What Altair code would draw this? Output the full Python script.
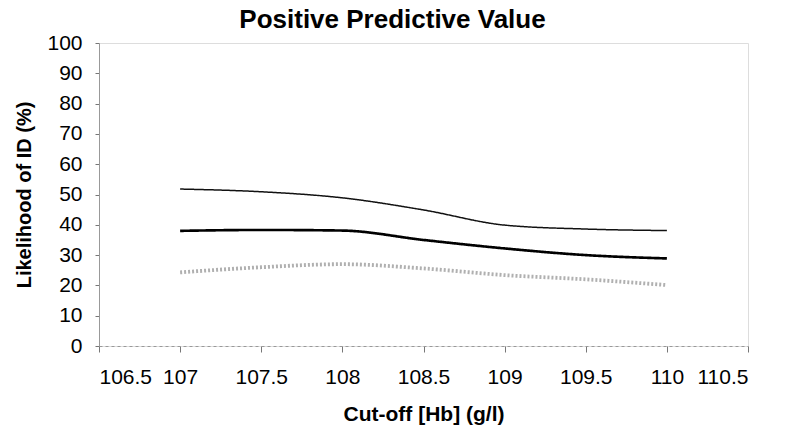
import altair as alt
import pandas as pd

cutoff = [107, 107.5, 108, 108.5, 109, 109.5, 110]
upper = [51.8, 50.9, 48.9, 44.9, 39.9, 38.6, 38.1]
ppv = [38.0, 38.3, 38.1, 35.0, 32.2, 30.0, 28.9]
lower = [24.3, 26.0, 27.0, 25.6, 23.4, 22.0, 20.1]

series_names = ["Upper", "PPV", "Lower"]
series_vals = [upper, ppv, lower]

rows = []
for name, vals in zip(series_names, series_vals):
    for x, v in zip(cutoff, vals):
        rows.append({"cutoff": x, "value": v, "series": name})
df = pd.DataFrame(rows)

FONT = "Liberation Sans"

chart = alt.Chart(df).mark_line(interpolate="monotone").encode(
    x=alt.X("cutoff:Q",
            scale=alt.Scale(domain=[106.5, 110.5], nice=False, zero=False),
            axis=alt.Axis(title="Cut-off [Hb] (g/l)", values=[106.5, 107, 107.5, 108, 108.5, 109, 109.5, 110, 110.5],
                          format="~g", tickSize=6, labelPadding=14, titlePadding=16,
                          domainDash=[3, 3], domainColor="#999", tickColor="#777",
                          labelFontSize=21, titleFontSize=21, grid=False)),
    y=alt.Y("value:Q",
            scale=alt.Scale(domain=[0, 100], nice=False),
            axis=alt.Axis(title="Likelihood of ID (%)", values=list(range(0, 101, 10)),
                          tickSize=4, labelPadding=13, titlePadding=12,
                          domainColor="#999", tickColor="#777",
                          labelFontSize=21, titleFontSize=20, grid=False)),
    color=alt.Color("series:N", scale=alt.Scale(domain=series_names, range=["#111111", "#000000", "#b0b0b0"]), legend=None),
    strokeWidth=alt.StrokeWidth("series:N", scale=alt.Scale(domain=series_names, range=[1.5, 3.8, 1.0]), legend=None),
    strokeDash=alt.StrokeDash("series:N", scale=alt.Scale(domain=series_names, range=[[1, 0], [1, 0], [2, 2]]), legend=None),
    detail="series:N",
).properties(
    width=649,
    height=303,
    title=alt.TitleParams("Positive Predictive Value", fontSize=26, font=FONT, fontWeight="bold",
                          anchor="middle", dx=-31, dy=15, offset=14),
    autosize=alt.AutoSizeParams(type="none"),
    padding={"left": 99, "top": 43, "right": 42, "bottom": 85},
).configure_view(stroke=None).configure_axis(
    labelFont=FONT, titleFont=FONT, labelColor="#000", titleColor="#000", titleFontWeight="bold"
).configure(background="white")

chart.save("out.html", embed_options={"renderer": "svg", "actions": False})
